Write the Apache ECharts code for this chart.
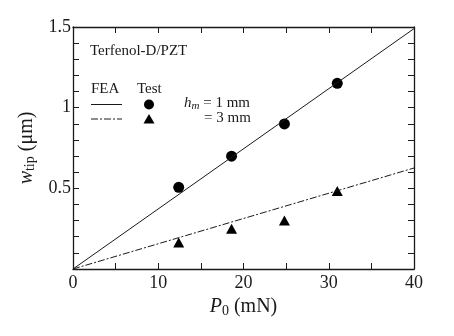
<!DOCTYPE html>
<html>
<head>
<meta charset="utf-8">
<title>wtip vs P0</title>
<script src="https://cdn.jsdelivr.net/npm/echarts@6/dist/echarts.min.js"></script>
</head>
<body style="margin:0;background:#fff">
<div id="main" style="width:454px;height:336px"></div>
<script>
// test data
var testLoad = [12.4, 18.6, 24.8, 31.0];
var test1mm = [0.506, 0.699, 0.899, 1.151];
var test3mm = [0.165, 0.25, 0.30, 0.484];
// FEA lines (end points)
var feaLoad = [0, 40];
var fea1mm = [0, 1.49];
var fea3mm = [0, 0.626];

var font = 'Liberation Serif';
var ink = '#1a1a1a';

function pairs(xs, ys) {
  return xs.map(function (x, i) { return [x, ys[i]]; });
}

var chart = echarts.init(document.getElementById('main'));

var axisCommon = {
  type: 'value',
  axisLine: { show: true, onZero: false, lineStyle: { color: ink, width: 1.3 } },
  axisTick: { show: true, inside: true, length: 6, lineStyle: { color: ink, width: 1 } },
  minorTick: { show: true, length: 6, lineStyle: { color: ink, width: 1 } },
  splitLine: { show: false },
  axisLabel: { color: ink, fontFamily: font, fontSize: 18 }
};

var option = {
  animation: false,
  grid: { left: 73, right: 40, top: 27, bottom: 67 },
  xAxis: [
    Object.assign({}, axisCommon, {
      min: 0, max: 40, interval: 10,
      minorTick: Object.assign({}, axisCommon.minorTick, { splitNumber: 2 }),
      axisLabel: { color: ink, fontFamily: font, fontSize: 18, margin: 5 },
      name: '{i|P}{s|0} (mN)',
      nameLocation: 'middle',
      nameGap: 27,
      nameTextStyle: {
        color: ink, fontFamily: font, fontSize: 20,
        rich: {
          i: { fontFamily: font, fontSize: 20, fontStyle: 'italic', color: ink },
          s: { fontFamily: font, fontSize: 14, color: ink, padding: [8, 0, 0, 0] }
        }
      }
    }),
    Object.assign({}, axisCommon, {
      position: 'top',
      min: 0, max: 40, interval: 10,
      minorTick: Object.assign({}, axisCommon.minorTick, { splitNumber: 2 }),
      axisLabel: { show: false }
    })
  ],
  yAxis: [
    Object.assign({}, axisCommon, {
      min: 0, max: 1.5, interval: 0.5,
      minorTick: Object.assign({}, axisCommon.minorTick, { splitNumber: 5 }),
      axisLabel: {
        color: ink, fontFamily: font, fontSize: 18, margin: 2,
        formatter: function (v) { return v === 0 ? '' : String(v); }
      },
      name: '{i|w}{s|tip} (\u03bcm)',
      nameLocation: 'middle',
      nameRotate: 90,
      nameGap: 33,
      nameTextStyle: {
        color: ink, fontFamily: font, fontSize: 20,
        rich: {
          i: { fontFamily: font, fontSize: 20, fontStyle: 'italic', color: ink },
          s: { fontFamily: font, fontSize: 14, color: ink, padding: [8, 0, 0, 0] }
        }
      }
    }),
    Object.assign({}, axisCommon, {
      position: 'right',
      min: 0, max: 1.5, interval: 0.5,
      minorTick: Object.assign({}, axisCommon.minorTick, { splitNumber: 5 }),
      axisLabel: { show: false }
    })
  ],
  series: [
    {
      type: 'line', name: 'FEA 1 mm', data: pairs(feaLoad, fea1mm),
      showSymbol: false, lineStyle: { color: ink, width: 1 }
    },
    {
      type: 'line', name: 'FEA 3 mm', data: pairs(feaLoad, fea3mm),
      showSymbol: false, lineStyle: { color: ink, width: 1, type: [7, 2, 2, 2] }
    },
    {
      type: 'scatter', name: 'Test 1 mm', data: pairs(testLoad, test1mm),
      symbol: 'circle', symbolSize: 11, itemStyle: { color: '#000', opacity: 1 }
    },
    {
      type: 'scatter', name: 'Test 3 mm', data: pairs(testLoad, test3mm),
      symbol: 'triangle', symbolSize: [11, 10], itemStyle: { color: '#000', opacity: 1 }
    }
  ],
  graphic: [
    { type: 'text', left: 90, top: 44, style: { text: 'Terfenol-D/PZT', font: '15px ' + font, fill: ink } },
    { type: 'text', left: 91, top: 82, style: { text: 'FEA', font: '15px ' + font, fill: ink } },
    { type: 'text', left: 137, top: 82, style: { text: 'Test', font: '15px ' + font, fill: ink } },
    { type: 'line', shape: { x1: 91, y1: 104.5, x2: 122, y2: 104.5 }, style: { stroke: ink, lineWidth: 1 } },
    { type: 'line', shape: { x1: 91, y1: 119, x2: 122, y2: 119 }, style: { stroke: ink, lineWidth: 1, lineDash: [7, 2, 2, 2] } },
    { type: 'circle', shape: { cx: 149, cy: 104.5, r: 5 }, style: { fill: '#000' } },
    { type: 'polygon', shape: { points: [[149, 114], [154.5, 123.5], [143.5, 123.5]] }, style: { fill: '#000' } },
    {
      type: 'text', left: 184, top: 96,
      style: {
        text: '{i|h}{s|m} = 1 mm', font: '15px ' + font, fill: ink,
        rich: {
          i: { fontFamily: font, fontSize: 15, fontStyle: 'italic', fill: ink },
          s: { fontFamily: font, fontSize: 11, fontStyle: 'italic', fill: ink, padding: [6, 0, 0, 0] }
        }
      }
    },
    { type: 'text', left: 204, top: 111, style: { text: '= 3 mm', font: '15px ' + font, fill: ink } }
  ]
};

chart.setOption(option);
</script>
</body>
</html>
